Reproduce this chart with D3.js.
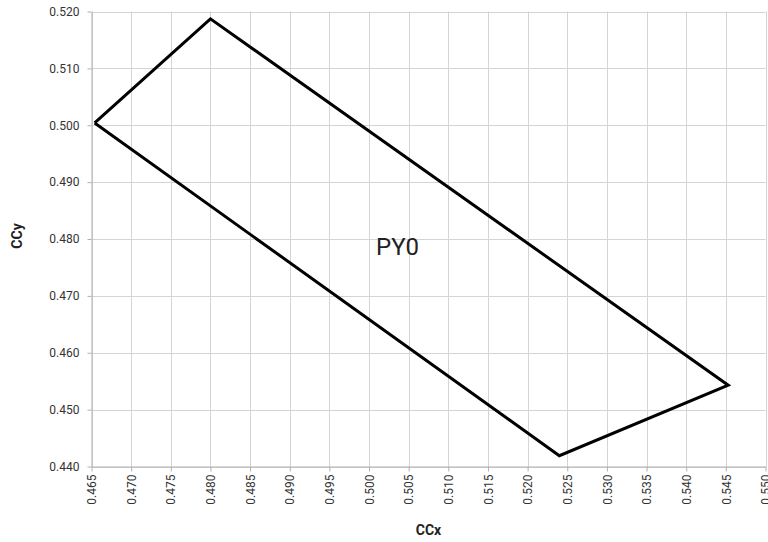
<!DOCTYPE html>
<html>
<head>
<meta charset="utf-8">
<script src="https://cdn.jsdelivr.net/npm/d3@7"></script>
<style>
  body { margin: 0; background: #fff; }
  svg { display: block; font-family: Roboto, "Noto Sans", sans-serif; }
</style>
</head>
<body>
<svg id="chart" width="768" height="542"></svg>
<script>
// Data
const seriesName = "PY0";
const ccx = [0.4654, 0.4800, 0.5453, 0.5240, 0.4654];
const ccy = [0.5004, 0.5187, 0.4543, 0.4419, 0.5004];
const xTicks = [0.465, 0.470, 0.475, 0.480, 0.485, 0.490, 0.495, 0.500, 0.505, 0.510, 0.515, 0.520, 0.525, 0.530, 0.535, 0.540, 0.545, 0.550];
const yTicks = [0.440, 0.450, 0.460, 0.470, 0.480, 0.490, 0.500, 0.510, 0.520];
const labelPos = [0.5036, 0.4772];

const svg = d3.select("#chart");
const mLeft = 91.5, mRight = 765.5, mTop = 11.5, mBottom = 466.5;

const x = d3.scaleLinear().domain([0.465, 0.550]).range([mLeft, mRight]);
const y = d3.scaleLinear().domain([0.440, 0.520]).range([mBottom, mTop]);

// grid
svg.append("g").selectAll("line").data(xTicks).join("line")
  .attr("x1", d => Math.round(x(d)) + 0.5).attr("x2", d => Math.round(x(d)) + 0.5)
  .attr("y1", mTop).attr("y2", mBottom)
  .attr("stroke", "#d4d4d4").attr("stroke-width", 1);
svg.append("g").selectAll("line").data(yTicks).join("line")
  .attr("x1", mLeft).attr("x2", mRight)
  .attr("y1", d => Math.round(y(d)) + 0.5).attr("y2", d => Math.round(y(d)) + 0.5)
  .attr("stroke", "#d4d4d4").attr("stroke-width", 1);

// axes
const xAxis = d3.axisBottom(x).tickValues(xTicks).tickFormat(d3.format(".3f")).tickSize(5).tickSizeOuter(0);
const gx = svg.append("g").attr("transform", `translate(0,${mBottom})`).call(xAxis);
gx.select(".domain").attr("stroke", "#b0b0b0");
gx.selectAll(".tick line").attr("stroke", "#b0b0b0");
gx.selectAll(".tick text")
  .attr("font-size", 12).attr("fill", "#333").attr("font-family", "Roboto, sans-serif")
  .attr("transform", "rotate(-90)")
  .attr("text-anchor", "end").attr("x", -8).attr("y", 0).attr("dy", "0.35em");

const yAxis = d3.axisLeft(y).tickValues(yTicks).tickFormat(d3.format(".3f")).tickSize(4).tickSizeOuter(0);
const gy = svg.append("g").attr("transform", `translate(${mLeft},0)`).call(yAxis);
gy.select(".domain").attr("stroke", "#b0b0b0");
gy.selectAll(".tick line").attr("stroke", "#b0b0b0");
gy.selectAll(".tick text")
  .attr("font-size", 12).attr("fill", "#333").attr("font-family", "Roboto, sans-serif")
  .attr("x", -12);

// polygon
const line = d3.line().x((d, i) => x(ccx[i])).y((d, i) => y(ccy[i]));
svg.append("path").datum(ccx).attr("d", line)
  .attr("fill", "none").attr("stroke", "#000").attr("stroke-width", 3)
  .attr("stroke-linejoin", "miter");

// label
svg.append("text").attr("x", x(labelPos[0])).attr("y", y(labelPos[1]))
  .attr("font-size", 24).attr("fill", "#222").attr("text-anchor", "middle")
  .text(seriesName);

// axis titles
svg.append("text").attr("x", (mLeft + mRight) / 2).attr("y", 535)
  .attr("text-anchor", "middle").attr("font-size", 14).attr("font-weight", "bold").attr("fill", "#222")
  .text("CCx");
svg.append("text").attr("transform", `translate(22,236) rotate(-90)`)
  .attr("text-anchor", "middle").attr("font-size", 14).attr("font-weight", "bold").attr("fill", "#222")
  .text("CCy");
</script>
</body>
</html>
